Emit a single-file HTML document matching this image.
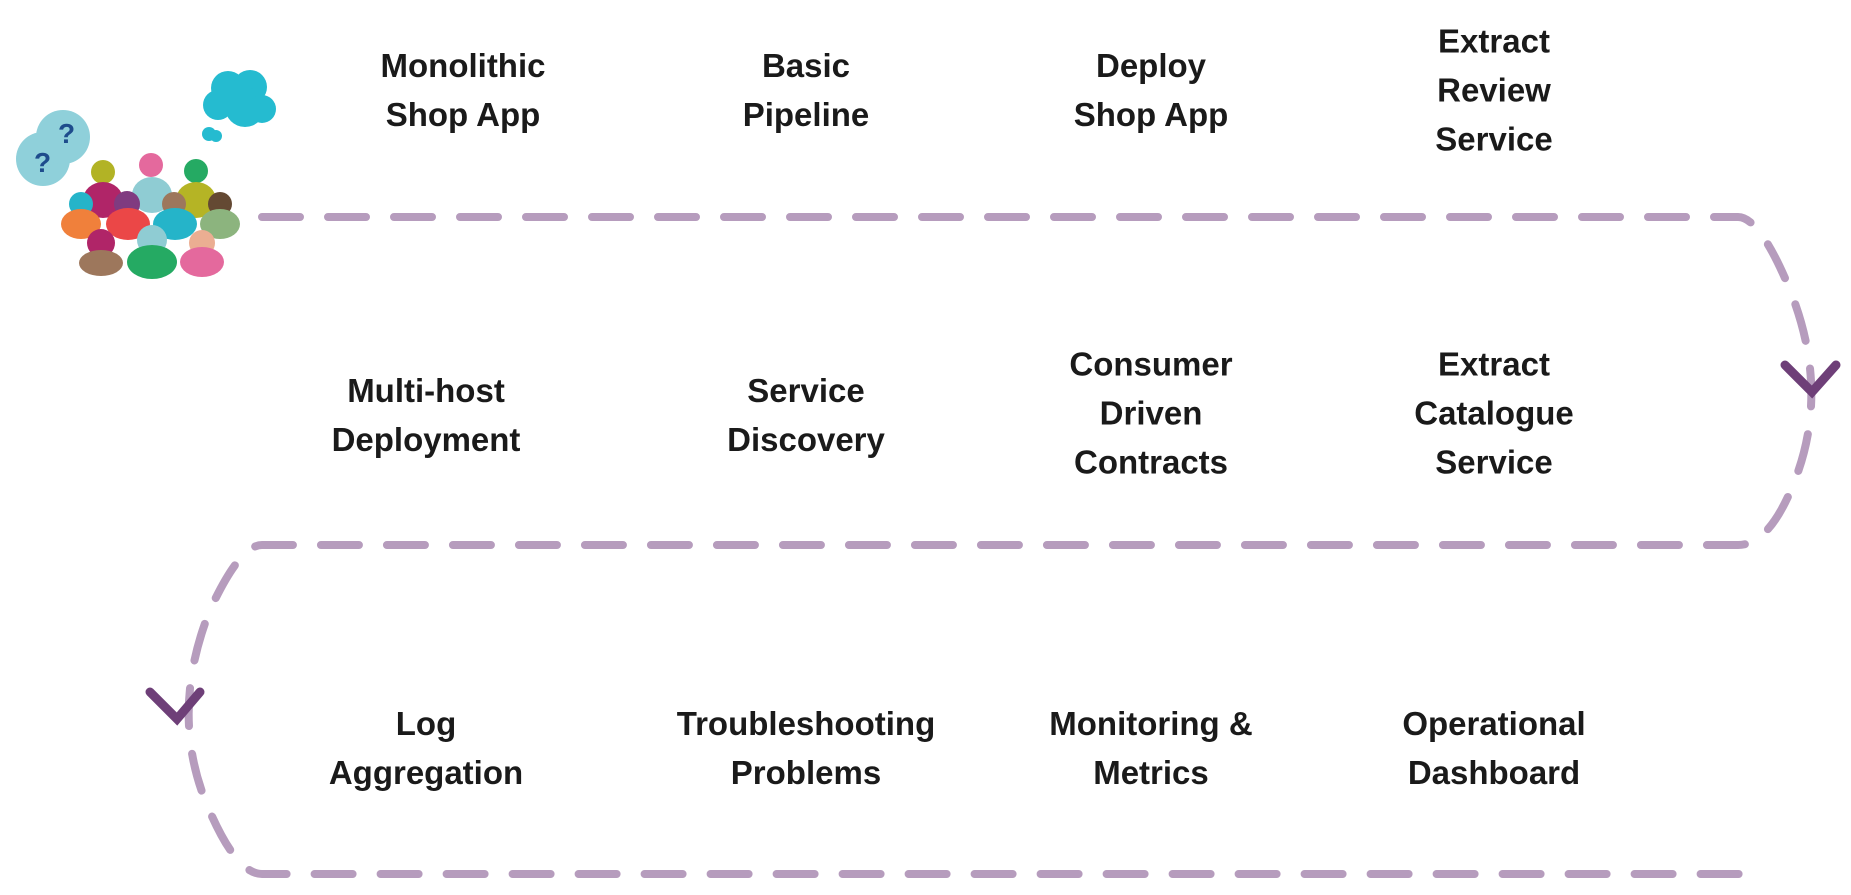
<!DOCTYPE html>
<html><head><meta charset="utf-8"><style>
body{margin:0;width:1851px;height:895px;background:#fff;overflow:hidden;position:relative;font-family:"Liberation Sans",sans-serif}
.t{position:absolute;width:340px;margin-left:-170px;text-align:center;font-weight:bold;font-size:33px;line-height:49px;color:#1a1a1a;transform:translateY(-50%)}
svg{position:absolute;left:0;top:0}
</style></head><body>
<svg width="1851" height="895">
<g fill="none" stroke="#b69cbd" stroke-width="8" stroke-linecap="round" stroke-dasharray="38 28">
<path d="M262 217 H1738 Q1760 217 1790 290 Q1830 390 1795 480 Q1770 545 1738 545 H262 Q240 545 210 610 Q170 710 205 800 Q235 874 262 874 H1745"/>
</g>
<g fill="none" stroke="#6e3f78" stroke-width="9" stroke-linecap="round">
<polyline points="1785,365 1812,392 1836,365"/>
<polyline points="150,692 177,719 200,692"/>
</g>
<g>
<circle cx="43" cy="159" r="27" fill="#8fd0da"/>
<circle cx="63" cy="137" r="27" fill="#8fd0da"/>
<text x="34" y="172" font-size="28" font-weight="bold" fill="#1e4c8c" font-family="Liberation Sans">?</text>
<text x="58" y="143" font-size="28" font-weight="bold" fill="#1e4c8c" font-family="Liberation Sans">?</text>
<g fill="#00b0c8" opacity="0.85">
<circle cx="228" cy="88" r="17"/><circle cx="250" cy="87" r="17"/><circle cx="218" cy="105" r="15"/><circle cx="245" cy="107" r="20"/><circle cx="262" cy="109" r="14"/><circle cx="209" cy="134" r="7"/><circle cx="216" cy="136" r="6"/>
</g>
<g opacity="0.85">
<circle cx="103" cy="172" r="12" fill="#a5a600"/><circle cx="151" cy="165" r="12" fill="#e0508c"/><circle cx="196" cy="171" r="12" fill="#009c48"/>
<ellipse cx="103" cy="200" rx="20" ry="18" fill="#a3004e"/><ellipse cx="152" cy="195" rx="20" ry="18" fill="#7cc4cc"/><ellipse cx="196" cy="200" rx="20" ry="18" fill="#a9a800"/>
<circle cx="81" cy="204" r="12" fill="#00a8c0"/><circle cx="127" cy="204" r="13" fill="#6a1a6a"/><circle cx="174" cy="204" r="12" fill="#8c6040"/><circle cx="220" cy="204" r="12" fill="#4a2a10"/>
<ellipse cx="81" cy="224" rx="20" ry="15" fill="#ee6a1a"/><ellipse cx="128" cy="224" rx="22" ry="16" fill="#e82828"/><ellipse cx="175" cy="224" rx="22" ry="16" fill="#00a8c0"/><ellipse cx="220" cy="224" rx="20" ry="15" fill="#78a868"/>
<circle cx="101" cy="243" r="14" fill="#a3004e"/><circle cx="152" cy="240" r="15" fill="#7cc4cc"/><circle cx="202" cy="243" r="13" fill="#e8a080"/>
<ellipse cx="101" cy="263" rx="22" ry="13" fill="#8c6040"/><ellipse cx="152" cy="262" rx="25" ry="17" fill="#009c48"/><ellipse cx="202" cy="262" rx="22" ry="15" fill="#e0508c"/>
</g>
</g>
</svg>
<div class="t" style="left:463px;top:90px">Monolithic<br>Shop App</div>
<div class="t" style="left:806px;top:90px">Basic<br>Pipeline</div>
<div class="t" style="left:1151px;top:90px">Deploy<br>Shop App</div>
<div class="t" style="left:1494px;top:90px">Extract<br>Review<br>Service</div>
<div class="t" style="left:426px;top:415px">Multi-host<br>Deployment</div>
<div class="t" style="left:806px;top:415px">Service<br>Discovery</div>
<div class="t" style="left:1151px;top:413px">Consumer<br>Driven<br>Contracts</div>
<div class="t" style="left:1494px;top:413px">Extract<br>Catalogue<br>Service</div>
<div class="t" style="left:426px;top:748px">Log<br>Aggregation</div>
<div class="t" style="left:806px;top:748px">Troubleshooting<br>Problems</div>
<div class="t" style="left:1151px;top:748px">Monitoring &amp;<br>Metrics</div>
<div class="t" style="left:1494px;top:748px">Operational<br>Dashboard</div>
</body></html>
